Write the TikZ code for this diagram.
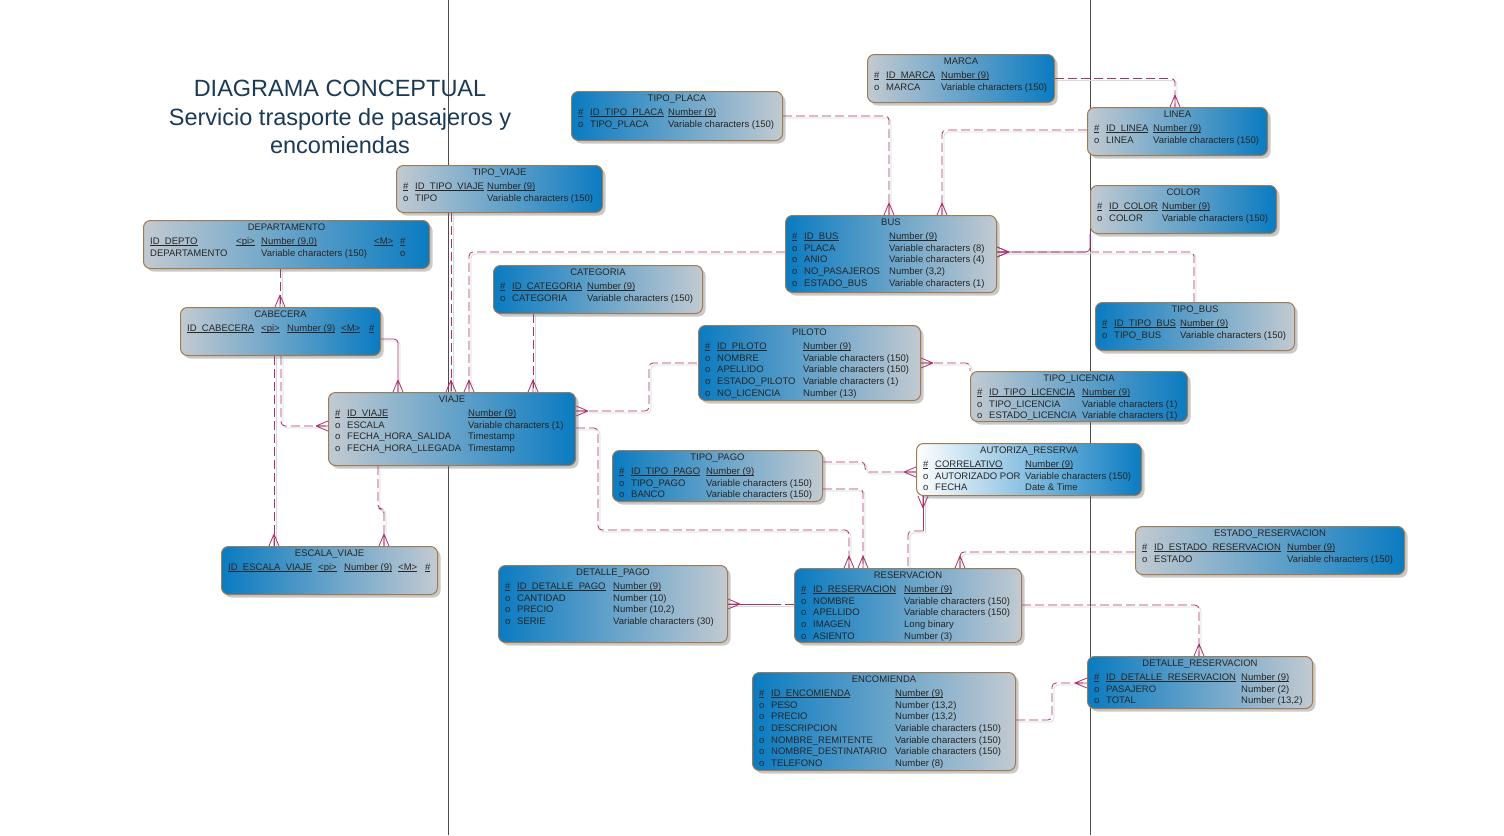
\documentclass[tikz,border=0pt]{standalone}
\usepackage{fontspec}
\setmainfont{Liberation Sans}
\usepackage{array}
\usepackage{tikz}
\usetikzlibrary{calc,shadows,backgrounds,decorations.markings}
\definecolor{EntBlue}{HTML}{0A7BC1}
\definecolor{EntGray}{HTML}{C2CAD1}
\definecolor{EntEdge}{HTML}{A07A52}
\definecolor{RelPink}{HTML}{A8336B}
\definecolor{TitleBlue}{HTML}{1B3A56}
\newcommand{\entfont}{\fontsize{9.5}{11.7}\selectfont}
\newcolumntype{E}[1]{@{}p{12pt}@{}p{#1}@{}l@{}}

\begin{document}
\begin{tikzpicture}[x=1pt, y=-1pt,
  ent/.style={draw=EntEdge, line width=1pt, rounded corners=7pt, anchor=north west, inner sep=0pt,
    drop shadow={shadow xshift=3pt, shadow yshift=-3pt, opacity=0.35, fill=black!60}},
  entL/.style={ent, left color=EntGray, right color=EntBlue},
  entR/.style={ent, left color=EntBlue, right color=EntGray},
  entW/.style={ent, left color=white, right color=EntBlue},
  ttl/.style={anchor=north, inner sep=0pt, yshift=-4pt, font=\entfont, text=black!85},
  rowtxt/.style={anchor=north west, inner sep=0pt, font=\entfont, text=black!85},
  titletxt/.style={align=center, inner sep=0pt, font=\fontsize{23.5}{28.5}\selectfont, text=TitleBlue},
  pageline/.style={draw=black!70, line width=0.8pt},
  rel/.style={draw=RelPink, line width=0.8pt, rounded corners=4pt, dash pattern=on 9pt off 4pt,
    preaction={draw=black!15, solid, line width=0.8pt, transform canvas={shift={(2pt,-2pt)}}}},
  relsolid/.style={rel, solid},
  crowE/.style={postaction={decorate, decoration={markings, mark=at position 1 with
    {\draw[RelPink, solid, line width=0.8pt] (-12pt,0pt) -- (0pt,5pt) (-12pt,0pt) -- (0pt,0pt) (-12pt,0pt) -- (0pt,-5pt);}}}},
  crowS/.style={postaction={decorate, decoration={markings, mark=at position 0 with
    {\draw[RelPink, solid, line width=0.8pt] (12pt,0pt) -- (0pt,5pt) (12pt,0pt) -- (0pt,0pt) (12pt,0pt) -- (0pt,-5pt);}}}}
]
\useasboundingbox (0,0) rectangle (1504,835);
\def\keyul#1{\leavevmode\setbox0=\hbox{#1}\rlap{\rule[-1.4pt]{\wd0}{0.45pt}}\box0}
\def\keyrow#1#2{\keyul{\#}&\keyul{#1}&\keyul{#2}\\}
\def\attrow#1#2{o&#1&#2\\}
\def\entity#1#2#3#4#5#6#7#8#9{%
  \node[#2, minimum width=#5pt, minimum height=#6pt] (#1) at (#3,#4) {};
  \node[ttl] (#1-t) at (#1.north) {#7};
  \node[rowtxt] (#1-r) at ([shift={(7pt,-16pt)}]#1.north west) {\begin{tabular}{#8}#9\end{tabular}};}

\node[titletxt] (title) at (340,117) {DIAGRAMA CONCEPTUAL\\Servicio trasporte de pasajeros y\\encomiendas};

% entities
\entity{tipoviaje}{entL}{396}{165}{206}{47}{TIPO\_VIAJE}{E{72pt}}{\keyrow{ID\_TIPO\_VIAJE}{Number (9)}\attrow{TIPO}{Variable characters (150)}}
\entity{departamento}{entL}{143}{220}{286}{48}{DEPARTAMENTO}{@{}p{86pt}@{}p{25pt}@{}p{113pt}@{}p{26pt}@{}l@{}}{%
  \keyul{ID\_DEPTO}&\keyul{<pi>}&\keyul{Number (9,0)}&\keyul{<M>}&\keyul{\#}\\
  DEPARTAMENTO&&Variable characters (150)&&o\\}
\entity{cabecera}{entL}{180}{307}{200}{48}{CABECERA}{@{}p{74pt}@{}p{26pt}@{}p{54pt}@{}p{28pt}@{}l@{}}{%
  \keyul{ID\_CABECERA}&\keyul{<pi>}&\keyul{Number (9)}&\keyul{<M>}&\keyul{\#}\\}
\entity{escalaviaje}{entR}{221}{546}{216}{48}{ESCALA\_VIAJE}{@{}p{90pt}@{}p{26pt}@{}p{54pt}@{}p{27pt}@{}l@{}}{%
  \keyul{ID\_ESCALA\_VIAJE}&\keyul{<pi>}&\keyul{Number (9)}&\keyul{<M>}&\keyul{\#}\\}
\entity{tipoplaca}{entR}{571}{91}{211}{49}{TIPO\_PLACA}{E{78pt}}{\keyrow{ID\_TIPO\_PLACA}{Number (9)}\attrow{TIPO\_PLACA}{Variable characters (150)}}
\entity{marca}{entL}{867}{54}{187}{48}{MARCA}{E{55pt}}{\keyrow{ID\_MARCA}{Number (9)}\attrow{MARCA}{Variable characters (150)}}
\entity{linea}{entL}{1087}{107}{180}{48}{LINEA}{E{47pt}}{\keyrow{ID\_LINEA}{Number (9)}\attrow{LINEA}{Variable characters (150)}}
\entity{color}{entL}{1090}{185}{186}{48}{COLOR}{E{53pt}}{\keyrow{ID\_COLOR}{Number (9)}\attrow{COLOR}{Variable characters (150)}}
\entity{bus}{entR}{785}{215}{211}{77}{BUS}{E{85pt}}{\keyrow{ID\_BUS}{Number (9)}\attrow{PLACA}{Variable characters (8)}%
  \attrow{ANIO}{Variable characters (4)}\attrow{NO\_PASAJEROS}{Number (3,2)}\attrow{ESTADO\_BUS}{Variable characters (1)}}
\entity{categoria}{entR}{493}{265}{209}{48}{CATEGORIA}{E{75pt}}{\keyrow{ID\_CATEGORIA}{Number (9)}\attrow{CATEGORIA}{Variable characters (150)}}
\entity{tipobus}{entR}{1095}{302}{199}{48}{TIPO\_BUS}{E{66pt}}{\keyrow{ID\_TIPO\_BUS}{Number (9)}\attrow{TIPO\_BUS}{Variable characters (150)}}
\entity{piloto}{entR}{698}{325}{222}{75}{PILOTO}{E{86pt}}{\keyrow{ID\_PILOTO}{Number (9)}\attrow{NOMBRE}{Variable characters (150)}%
  \attrow{APELLIDO}{Variable characters (150)}\attrow{ESTADO\_PILOTO}{Variable characters (1)}\attrow{NO\_LICENCIA}{Number (13)}}
\entity{tipolicencia}{entL}{970}{371}{217}{50}{TIPO\_LICENCIA}{E{93pt}}{\keyrow{ID\_TIPO\_LICENCIA}{Number (9)}%
  \attrow{TIPO\_LICENCIA}{Variable characters (1)}\attrow{ESTADO\_LICENCIA}{Variable characters (1)}}
\entity{viaje}{entL}{328}{392}{247}{73}{VIAJE}{E{121pt}}{\keyrow{ID\_VIAJE}{Number (9)}\attrow{ESCALA}{Variable characters (1)}%
  \attrow{FECHA\_HORA\_SALIDA}{Timestamp}\attrow{FECHA\_HORA\_LLEGADA}{Timestamp}}
\entity{tipopago}{entR}{612}{450}{210}{51}{TIPO\_PAGO}{E{75pt}}{\keyrow{ID\_TIPO\_PAGO}{Number (9)}%
  \attrow{TIPO\_PAGO}{Variable characters (150)}\attrow{BANCO}{Variable characters (150)}}
\entity{autoriza}{entW}{916}{443}{225}{52}{AUTORIZA\_RESERVA}{E{90pt}}{\keyrow{CORRELATIVO}{Number (9)}%
  \attrow{AUTORIZADO POR}{Variable characters (150)}\attrow{FECHA}{Date \& Time}}
\entity{estadoreserv}{entL}{1135}{526}{269}{48}{ESTADO\_RESERVACION}{E{133pt}}{\keyrow{ID\_ESTADO\_RESERVACION}{Number (9)}%
  \attrow{ESTADO}{Variable characters (150)}}
\entity{detallepago}{entR}{498}{565}{229}{77}{DETALLE\_PAGO}{E{96pt}}{\keyrow{ID\_DETALLE\_PAGO}{Number (9)}%
  \attrow{CANTIDAD}{Number (10)}\attrow{PRECIO}{Number (10,2)}\attrow{SERIE}{Variable characters (30)}}
\entity{reservacion}{entR}{794}{568}{227}{74}{RESERVACION}{E{91pt}}{\keyrow{ID\_RESERVACION}{Number (9)}%
  \attrow{NOMBRE}{Variable characters (150)}\attrow{APELLIDO}{Variable characters (150)}\attrow{IMAGEN}{Long binary}\attrow{ASIENTO}{Number (3)}}
\entity{encomienda}{entR}{752}{672}{263}{98}{ENCOMIENDA}{E{124pt}}{\keyrow{ID\_ENCOMIENDA}{Number (9)}%
  \attrow{PESO}{Number (13,2)}\attrow{PRECIO}{Number (13,2)}\attrow{DESCRIPCION}{Variable characters (150)}%
  \attrow{NOMBRE\_REMITENTE}{Variable characters (150)}\attrow{NOMBRE\_DESTINATARIO}{Variable characters (150)}\attrow{TELEFONO}{Number (8)}}
\entity{detallereserv}{entR}{1087}{656}{225}{52}{DETALLE\_RESERVACION}{E{135pt}}{\keyrow{ID\_DETALLE\_RESERVACION}{Number (9)}%
  \attrow{PASAJERO}{Number (2)}\attrow{TOTAL}{Number (13,2)}}

% relationships, behind the entities
\begin{scope}[on background layer]
\fill[white] (0,0) rectangle (1504,835);
\draw[pageline] (448,0) -- (448,835);
\draw[pageline] (1090,0) -- (1090,835);
\draw[rel, crowE] (marca.east) -| ($(linea.north west)+(88,0)$);
\draw[rel, crowE] (tipoplaca.east) -| ($(bus.north west)+(104,0)$);
\draw[rel, crowE] ($(linea.north west)+(0,23)$) -| ($(bus.north west)+(157,0)$);
\draw[rel, crowE] ($(tipobus.north west)+(99,0)$) |- ($(bus.north east)+(0,37)$);
\draw[relsolid, crowE] (color.south west) |- ($(bus.north east)+(0,37)$);
\draw[rel, crowE] ($(bus.north west)+(0,37)$) -| ($(viaje.north west)+(141,0)$);
\draw[rel, crowE] ($(tipoviaje.south west)+(55,0)$) -- ($(viaje.north west)+(123,0)$);
\draw[rel, crowE] ($(categoria.south west)+(40,0)$) -- ($(viaje.north west)+(205,0)$);
\draw[rel, crowE] ($(departamento.south west)+(137,0)$) -- ($(cabecera.north west)+(100,0)$);
\draw[relsolid, crowE] ($(cabecera.north east)+(0,32)$) -| ($(viaje.north west)+(70,0)$);
\draw[rel, crowE] ($(cabecera.south west)+(101,0)$) |- ($(viaje.north west)+(0,34)$);
\draw[rel, crowE] ($(cabecera.south west)+(94,0)$) -- ($(escalaviaje.north west)+(53,0)$);
\draw[rel, crowE] ($(viaje.south west)+(50,0)$) -- ++(0,43) -| ($(escalaviaje.north west)+(163,0)$);
\draw[rel, crowS] ($(viaje.north east)+(0,19)$) -- ++(73,0) |- ($(piloto.north west)+(0,38)$);
\draw[rel, crowS] ($(piloto.north east)+(0,38)$) -| (tipolicencia.north west);
\draw[rel, crowE] ($(viaje.north east)+(0,36)$) -- ++(22,0) -- ++(0,102) -| ($(reservacion.north west)+(55,0)$);
\draw[rel, crowE] ($(tipopago.north east)+(0,39)$) -| ($(reservacion.north west)+(69,0)$);
\draw[rel, crowE] ($(tipopago.north east)+(0,12)$) -- ++(42,0) |- ($(autoriza.north west)+(0,29)$);
\draw[relsolid, crowS] ($(autoriza.south west)+(7,0)$) -- ++(0,35) coordinate (arjoin);
\draw[rel] (arjoin) -| ($(reservacion.north west)+(114,0)$);
\draw[rel, crowE] ($(estadoreserv.north west)+(0,26)$) -| ($(reservacion.north west)+(166,0)$);
\draw[rel] ($(reservacion.north west)+(0,36)$) -- ($(detallepago.north east)+(51,39)$);
\draw[relsolid, crowE] ($(detallepago.north east)+(51,39)$) -- ($(detallepago.north east)+(0,39)$);
\draw[rel, crowE] ($(reservacion.north east)+(0,37)$) -| ($(detallereserv.north west)+(112,0)$);
\draw[rel, crowE] ($(encomienda.north east)+(0,48)$) -- ++(36,0) |- ($(detallereserv.north west)+(0,27)$);
\end{scope}
\end{tikzpicture}
\end{document}
